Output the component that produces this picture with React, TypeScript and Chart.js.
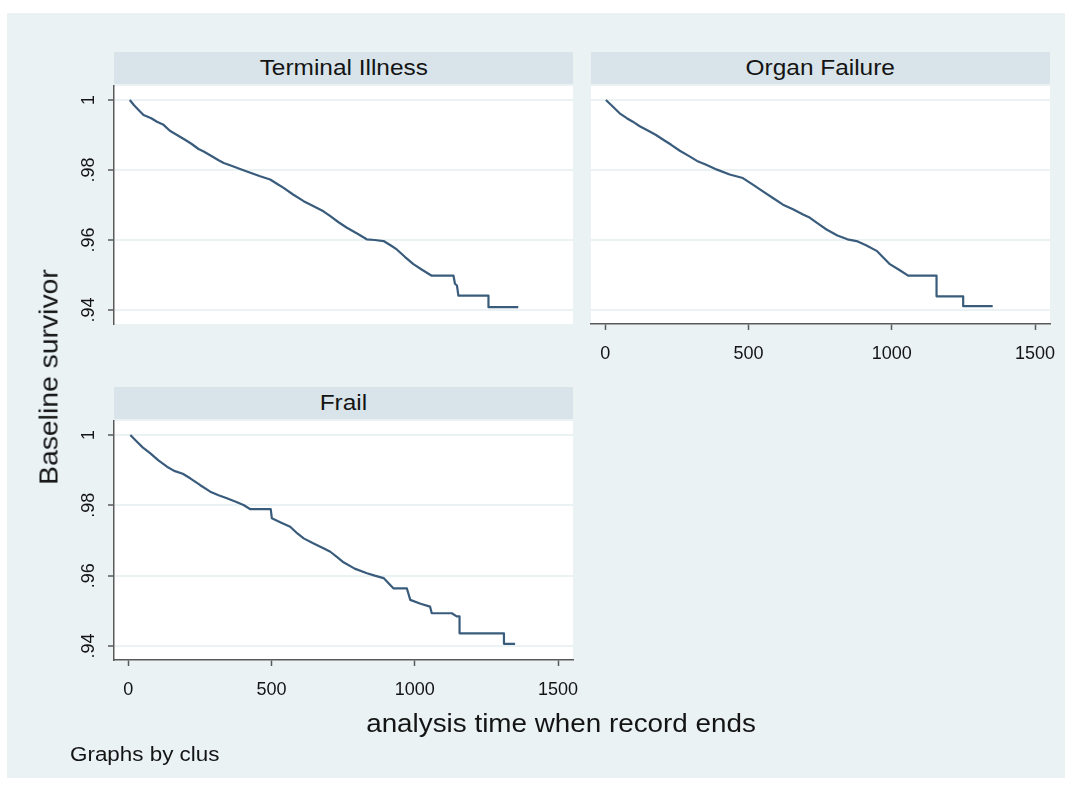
import React, { useEffect, useRef } from "react";
import { Chart, registerables } from "chart.js";

Chart.register(...registerables);

// ---------- data ----------
const panelTitles = ["Terminal Illness", "Organ Failure", "Frail"];

const terminalTime = [5, 20, 40, 53, 80, 100, 123, 145, 170, 195, 220, 245, 263, 290, 315, 333, 360, 390, 426, 460, 495, 520, 542, 575, 612, 645, 681, 705, 735, 763, 800, 832, 860, 891, 915, 937, 965, 995, 1025, 1059, 1135, 1140, 1147, 1152, 1257, 1257, 1361];
const terminalSurv = [1.0, 0.9985, 0.9968, 0.9957, 0.9948, 0.9938, 0.9929, 0.9912, 0.99, 0.9888, 0.9875, 0.986, 0.9853, 0.984, 0.9828, 0.982, 0.9812, 0.9803, 0.9792, 0.9782, 0.9773, 0.976, 0.9749, 0.973, 0.9711, 0.9697, 0.9682, 0.9668, 0.965, 0.9635, 0.9618, 0.9602, 0.96, 0.9597, 0.9585, 0.9573, 0.9552, 0.9531, 0.9515, 0.9498, 0.9498, 0.9475, 0.947, 0.9441, 0.9441, 0.9408, 0.9408];

const organTime = [2, 25, 50, 75, 96, 120, 150, 177, 205, 230, 260, 294, 320, 352, 390, 434, 480, 515, 550, 585, 620, 655, 690, 713, 740, 772, 810, 845, 877, 910, 947, 970, 993, 1025, 1057, 1156, 1156, 1249, 1249, 1352];
const organSurv = [1.0, 0.9982, 0.9962, 0.9948, 0.9938, 0.9925, 0.9912, 0.99, 0.9885, 0.9872, 0.9855, 0.9839, 0.9826, 0.9815, 0.9801, 0.9787, 0.9777, 0.9758, 0.9739, 0.972, 0.9701, 0.9688, 0.9673, 0.9664, 0.9648, 0.963, 0.9613, 0.9602, 0.9597, 0.9585, 0.9569, 0.955, 0.9531, 0.9515, 0.9498, 0.9498, 0.9439, 0.9439, 0.9411, 0.9411];

const frailTime = [7, 25, 50, 77, 105, 135, 160, 190, 216, 250, 286, 315, 344, 375, 402, 426, 497, 501, 530, 565, 590, 612, 645, 681, 705, 730, 751, 790, 833, 860, 891, 925, 972, 984, 1020, 1053, 1059, 1129, 1146, 1156, 1156, 1311, 1311, 1350];
const frailSurv = [1.0, 0.9985, 0.9965, 0.9948, 0.9928, 0.991, 0.9898, 0.989, 0.9877, 0.9858, 0.9839, 0.9829, 0.982, 0.981, 0.9801, 0.9789, 0.9789, 0.9763, 0.9752, 0.9739, 0.972, 0.9706, 0.9692, 0.9678, 0.9668, 0.9652, 0.9638, 0.962, 0.9607, 0.96, 0.9593, 0.9564, 0.9564, 0.9531, 0.952, 0.9512, 0.9493, 0.9493, 0.9484, 0.9484, 0.9436, 0.9436, 0.9406, 0.9406];

const yTicks = [0.94, 0.96, 0.98, 1];
const yTickLabels = [".94", ".96", ".98", "1"];
const xTicks = [0, 500, 1000, 1500];
const xTickLabels = ["0", "500", "1000", "1500"];

const yTitle = "Baseline survivor";
const xTitle = "analysis time when record ends";
const noteText = "Graphs by clus";

// ---------- styling / layout ----------
const W = 1073;
const H = 791;
const FONT = "'Liberation Sans', Arial, Helvetica, sans-serif";
const BG = "#EAF2F3";
const STRIP = "#D8E4EA";
const LINE = "#3A5C7C";
const AXIS = "#5a5a5a";
const TXT = "#141414";

const X_MIN = -50;
const X_MAX = 1552;
const Y_MIN = 0.936;
const Y_MAX = 1.004;

type Panel = {
  title: string;
  time: number[];
  surv: number[];
  left: number;
  right: number;
  top: number;
  bottom: number;
  showY: boolean;
  showX: boolean;
};

const panels: Panel[] = [
  { title: panelTitles[0], time: terminalTime, surv: terminalSurv, left: 114, right: 573, top: 86, bottom: 324, showY: true, showX: false },
  { title: panelTitles[1], time: organTime, surv: organSurv, left: 591, right: 1050, top: 86, bottom: 324, showY: false, showX: true },
  { title: panelTitles[2], time: frailTime, surv: frailSurv, left: 114, right: 573, top: 421, bottom: 660, showY: true, showX: true },
];

const Y_AXIS_W = 44;
const X_AXIS_H = 50;

const plotBg = {
  id: "plotBg",
  beforeDraw(chart: any) {
    const { ctx, chartArea } = chart;
    ctx.save();
    ctx.fillStyle = "#ffffff";
    ctx.fillRect(chartArea.left, chartArea.top, chartArea.right - chartArea.left, chartArea.bottom - chartArea.top);
    ctx.restore();
  },
};

function makeConfig(p: Panel): any {
  const yW = p.showY ? Y_AXIS_W : 0;
  const xH = p.showX ? X_AXIS_H : 0;
  return {
    type: "line",
    data: {
      datasets: [
        {
          data: p.time.map((t, i) => ({ x: t, y: p.surv[i] })),
          borderColor: LINE,
          borderWidth: 2.2,
          pointRadius: 0,
          tension: 0,
          borderJoinStyle: "round",
          fill: false,
        },
      ],
    },
    options: {
      animation: false,
      responsive: false,
      maintainAspectRatio: false,
      layout: {
        padding: {
          left: p.left - yW,
          right: W - p.right,
          top: p.top,
          bottom: H - p.bottom - xH,
        },
      },
      plugins: {
        legend: { display: false },
        tooltip: { enabled: false },
      },
      scales: {
        x: {
          type: "linear",
          min: X_MIN,
          max: X_MAX,
          display: p.showX,
          afterBuildTicks: (s: any) => {
            s.ticks = xTicks.map((v) => ({ value: v }));
          },
          afterFit: (s: any) => {
            s.height = xH;
          },
          grid: {
            drawOnChartArea: false,
            drawTicks: true,
            tickLength: 6,
            tickColor: AXIS,
            tickWidth: 1.5,
          },
          border: { display: true, color: AXIS, width: 1.5 },
          ticks: {
            padding: 13,
            maxRotation: 0,
            minRotation: 0,
            autoSkip: false,
            color: TXT,
            font: { family: FONT, size: 18 },
            callback: (_v: any, i: number) => xTickLabels[i],
          },
        },
        y: {
          type: "linear",
          min: Y_MIN,
          max: Y_MAX,
          display: true,
          afterBuildTicks: (s: any) => {
            s.ticks = yTicks.map((v) => ({ value: v }));
          },
          afterFit: (s: any) => {
            s.width = yW;
          },
          grid: {
            drawOnChartArea: true,
            drawTicks: p.showY,
            tickLength: 6,
            color: BG,
            lineWidth: 2,
            tickColor: AXIS,
            tickWidth: 1.5,
          },
          border: { display: p.showY, color: AXIS, width: 1.5 },
          ticks: {
            display: p.showY,
            padding: 6,
            minRotation: 90,
            maxRotation: 90,
            crossAlign: "center",
            autoSkip: false,
            color: TXT,
            font: { family: FONT, size: 18 },
            callback: (_v: any, i: number) => yTickLabels[i],
          },
        },
      },
    },
    plugins: [plotBg],
  };
}

function PanelChart({ panel }: { panel: Panel }) {
  const ref = useRef<HTMLCanvasElement | null>(null);
  useEffect(() => {
    if (!ref.current) return;
    const chart = new Chart(ref.current, makeConfig(panel));
    return () => chart.destroy();
  }, [panel]);
  return (
    <canvas
      ref={ref}
      width={W}
      height={H}
      style={{ position: "absolute", left: 0, top: 0, width: W, height: H }}
    />
  );
}

function Strip({ p }: { p: Panel }) {
  const h = 32;
  return (
    <div
      style={{
        position: "absolute",
        left: p.left,
        top: p.top - 2 - h,
        width: p.right - p.left,
        height: h,
        background: STRIP,
        color: TXT,
        fontFamily: FONT,
        fontSize: 22,
        display: "flex",
        alignItems: "center",
        justifyContent: "center",
        whiteSpace: "nowrap",
      }}
    >
      <span style={{ display: "inline-block", transform: "scaleX(1.11)" }}>{p.title}</span>
    </div>
  );
}

export default function App() {
  return (
    <div style={{ position: "absolute", left: 0, top: 0, width: W, height: H, background: "#ffffff", overflow: "hidden" }}>
      <div style={{ position: "absolute", left: 7, top: 13, width: 1058, height: 765, background: BG }} />
      {panels.map((p) => (
        <Strip key={p.title} p={p} />
      ))}
      {panels.map((p) => (
        <PanelChart key={p.title} panel={p} />
      ))}
      <div
        style={{
          position: "absolute",
          left: 49,
          top: 377,
          transform: "translate(-50%, -50%) rotate(-90deg) scaleX(1.09)",
          fontFamily: FONT,
          fontSize: 26,
          color: TXT,
          whiteSpace: "nowrap",
        }}
      >
        {yTitle}
      </div>
      <div
        style={{
          position: "absolute",
          left: 561,
          top: 723,
          transform: "translate(-50%, -50%) scaleX(1.07)",
          fontFamily: FONT,
          fontSize: 26,
          color: TXT,
          whiteSpace: "nowrap",
        }}
      >
        {xTitle}
      </div>
      <div
        style={{
          position: "absolute",
          left: 70,
          top: 754,
          transform: "translate(0, -50%) scaleX(1.12)",
          transformOrigin: "left center",
          fontFamily: FONT,
          fontSize: 20,
          color: TXT,
          whiteSpace: "nowrap",
        }}
      >
        {noteText}
      </div>
    </div>
  );
}
